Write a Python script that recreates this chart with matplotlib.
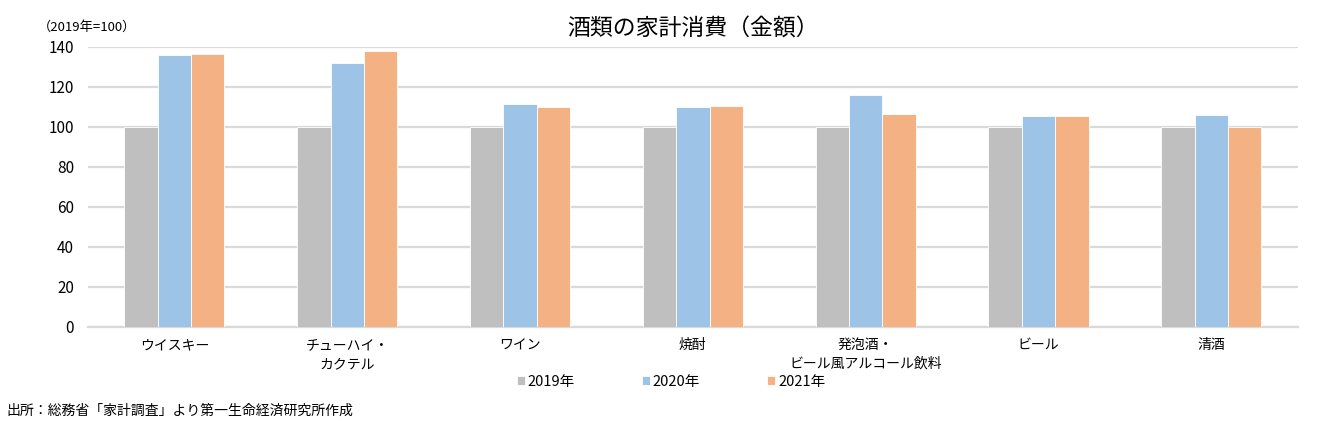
import matplotlib
matplotlib.use("Agg")
import matplotlib.pyplot as plt
import numpy as np

plt.rcParams['font.family'] = ['Noto Sans CJK JP', 'DejaVu Sans']

categories = ["ウイスキー", "チューハイ・\nカクテル", "ワイン", "焼酎", "発泡酒・\nビール風アルコール飲料", "ビール", "清酒"]
series_names = ["2019年", "2020年", "2021年"]
v2019 = [100, 100, 100, 100, 100, 100, 100]
v2020 = [136, 132, 111.5, 109.8, 116, 105.5, 106]
v2021 = [136.5, 138, 110, 110.3, 106.3, 105.5, 99.8]
colors = ["#BFBFBF", "#9DC3E6", "#F4B183"]

fig = plt.figure(figsize=(13.42, 4.21), dpi=100)
ax = fig.add_axes([0.0656, 0.2233, 0.9014, 0.6651])

x = np.arange(len(categories))
w = 0.193
for i, (vals, name, c) in enumerate(zip([v2019, v2020, v2021], series_names, colors)):
    ax.bar(x + (i - 1) * w, vals, width=w, color=c, label=name, edgecolor='white', linewidth=0.6, zorder=3)

ax.set_xlim(-0.5, len(categories) - 0.5)
ax.set_ylim(0, 140)
ax.set_yticks(range(0, 141, 20))
ax.grid(axis='y', color='#D9D9D9', linewidth=1.6, zorder=0)
ax.set_axisbelow(True)
for s in ['top', 'right', 'left']:
    ax.spines[s].set_visible(False)
ax.spines['bottom'].set_color('#D9D9D9')
ax.spines['bottom'].set_linewidth(1.6)
ax.tick_params(axis='both', length=0)
ax.tick_params(axis='y', labelsize=11, pad=10)
ax.set_xticks(x)
ax.set_xticklabels(categories, fontsize=10, linespacing=1.45)
ax.tick_params(axis='x', pad=8)

fig.text(0.0656 + 0.9014 / 2, 0.932, "酒類の家計消費（金額）", ha='center', va='center', fontsize=16.5)
fig.text(0.028, 0.935, "（2019年=100）", ha='left', va='center', fontsize=9.5)
fig.text(0.005, 0.025, "出所：総務省「家計調査」より第一生命経済研究所作成", ha='left', va='center', fontsize=10)

leg = fig.legend(loc='center', bbox_to_anchor=(0.5, 0.093), ncol=3, frameon=False,
                 fontsize=10.5, handlelength=0.55, handleheight=0.55, handletextpad=0.2, columnspacing=4.6)

fig.savefig("out.png", dpi=100)
